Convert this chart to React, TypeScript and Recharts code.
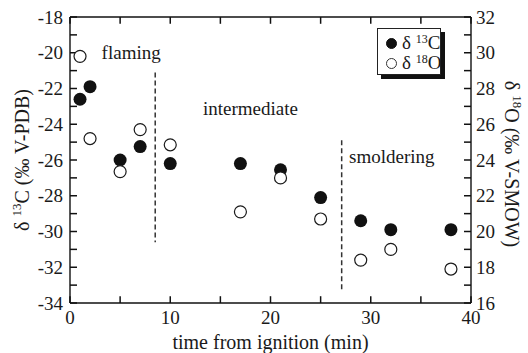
import { ScatterChart, Scatter, XAxis, YAxis, ReferenceLine, ReferenceDot } from 'recharts';

// sampling times (min after ignition)
const TIME = [1, 2, 5, 7, 10, 17, 21, 25, 29, 32, 38];
// delta 13C, per mil V-PDB (left axis)
const D13C = [-22.6, -21.9, -26.0, -25.25, -26.2, -26.2, -26.55, -28.1, -29.4, -29.9, -29.9];
// delta 18O, per mil V-SMOW (right axis)
const D18O = [29.8, 25.2, 23.35, 25.7, 24.85, 21.1, 23.0, 20.7, 18.4, 19.0, 17.9];

const X_TICKS = [0, 5, 10, 15, 20, 25, 30, 35, 40];
const C_TICKS = [-34, -33, -32, -31, -30, -29, -28, -27, -26, -25, -24, -23, -22, -21, -20, -19, -18];
const O_TICKS = [16, 17, 18, 19, 20, 21, 22, 23, 24, 25, 26, 27, 28, 29, 30, 31, 32];

// combustion phases: label, label position, and the dashed boundary after it
const PHASE_LABELS = ['flaming', 'intermediate', 'smoldering'];
const PHASE_X = [6.1, 18.0, 32.1];
const PHASE_Y = [-20.0, -23.1, -25.8];
const BOUNDARY_X = [8.5, 27.1];
const BOUNDARY_TOP = [-21.1, -24.9];
const BOUNDARY_BOTTOM = [-30.6, -33.3];

const X_MIN = 0;
const X_MAX = 40;
const C_MIN = -34;
const C_MAX = -18;
const O_MIN = 16;
const O_MAX = 32;
// inward tick length in data units (~7px)
const TICK_X = 0.7;
const TICK_Y = 0.38;

const FONT = 'Liberation Serif';
const INK = '#1a1a1a';
const axisLine = { stroke: '#111', strokeWidth: 1.4 };
const tickStyle = { fontSize: 19, fontFamily: FONT, fill: INK };
const tickStroke = { stroke: '#111', strokeWidth: 1.5 };

const evenOnly = (v: number) => (v % 2 === 0 ? String(v) : '');
const tensOnly = (v: number) => (v % 10 === 0 ? String(v) : '');

const carbon = TIME.map((t, i) => ({ t, v: D13C[i] }));
const oxygen = TIME.map((t, i) => ({ t, v: D18O[i] }));

const FilledDot = ({ cx, cy }: any) => <circle cx={cx} cy={cy} r={6.5} fill="#111" />;
const OpenDot = ({ cx, cy }: any) => (
  <circle cx={cx} cy={cy} r={6} fill="#fff" stroke={INK} strokeWidth={1.2} />
);

const LeftTitle = ({ viewBox }: any) => {
  const cx = 22;
  const cy = viewBox.y + viewBox.height / 2;
  return (
    <text x={cx} y={cy} transform={`rotate(-90 ${cx} ${cy})`} textAnchor="middle" dy="0.35em"
      fontSize={20} fontFamily={FONT} fill={INK}>
      δ <tspan fontSize={13} dy={-8}>13</tspan><tspan dy={8}>C (‰ V-PDB)</tspan>
    </text>
  );
};

const RightTitle = ({ viewBox }: any) => {
  const cx = 512;
  const cy = viewBox.y + viewBox.height / 2 + 4;
  return (
    <text x={cx} y={cy} transform={`rotate(90 ${cx} ${cy})`} textAnchor="middle" dy="0.35em"
      fontSize={20} fontFamily={FONT} fill={INK}>
      δ <tspan fontSize={13} dy={-8}>18</tspan><tspan dy={8}>O (‰ V-SMOW)</tspan>
    </text>
  );
};

const PhaseLegend = () => (
  <div
    style={{
      position: 'absolute',
      left: 377,
      top: 28,
      width: 62,
      height: 45,
      border: '1.2px solid #222',
      boxShadow: '4px 4px 0 #111',
      background: '#fff',
      fontFamily: FONT,
      fontSize: 19,
      color: INK,
    }}
  >
    {[
      { key: '13', el: 'C', filled: true },
      { key: '18', el: 'O', filled: false },
    ].map((s, i) => (
      <div key={s.key} style={{ position: 'absolute', left: 8, top: 4 + i * 20, display: 'flex', alignItems: 'center', height: 20, whiteSpace: 'nowrap' }}>
        <span
          style={{
            display: 'inline-block',
            width: 9,
            height: 9,
            borderRadius: '50%',
            background: s.filled ? '#111' : '#fff',
            border: s.filled ? '1px solid #111' : '1px solid #333',
            marginRight: 5,
          }}
        />
        <span>
          δ <sup style={{ fontSize: 12, verticalAlign: 'top', lineHeight: 1, position: 'relative', top: 1 }}>{s.key}</sup>
          {s.el}
        </span>
      </div>
    ))}
  </div>
);

export default function App() {
  return (
    <div style={{ position: 'absolute', left: 0, top: 0, width: 528, height: 353, background: '#fff', fontFamily: FONT }}>
      <ScatterChart width={528} height={353} margin={{ top: 17, right: 0, bottom: 0, left: 0 }}>
        <XAxis
          dataKey="t"
          type="number"
          domain={[X_MIN, X_MAX]}
          ticks={X_TICKS}
          interval={0}
          height={50}
          tickSize={0}
          tickMargin={8}
          tick={tickStyle}
          tickLine={false}
          tickFormatter={tensOnly}
          axisLine={axisLine}
          label={{ value: 'time from ignition (min)', position: 'insideBottom', offset: 4, fontSize: 20, fontFamily: FONT, fill: INK }}
        />
        <YAxis
          yAxisId="left"
          dataKey="v"
          type="number"
          domain={[C_MIN, C_MAX]}
          ticks={C_TICKS}
          interval={0}
          width={70}
          tickSize={0}
          tickMargin={7}
          tick={tickStyle}
          tickLine={false}
          tickFormatter={evenOnly}
          axisLine={axisLine}
          label={<LeftTitle />}
        />
        <YAxis
          yAxisId="right"
          orientation="right"
          dataKey="v"
          type="number"
          domain={[O_MIN, O_MAX]}
          ticks={O_TICKS}
          interval={0}
          width={57}
          tickSize={0}
          tickMargin={5}
          tick={tickStyle}
          tickLine={false}
          tickFormatter={evenOnly}
          axisLine={axisLine}
          label={<RightTitle />}
        />
        {/* top frame line */}
        <ReferenceLine yAxisId="left" y={C_MAX} {...axisLine} />
        {/* inward tick marks */}
        {X_TICKS.map((t) => (
          <ReferenceLine key={`b${t}`} yAxisId="left" segment={[{ x: t, y: C_MIN }, { x: t, y: C_MIN + TICK_Y }]} {...tickStroke} />
        ))}
        {X_TICKS.map((t) => (
          <ReferenceLine key={`t${t}`} yAxisId="left" segment={[{ x: t, y: C_MAX }, { x: t, y: C_MAX - TICK_Y }]} {...tickStroke} />
        ))}
        {C_TICKS.map((v) => (
          <ReferenceLine key={`l${v}`} yAxisId="left" segment={[{ x: X_MIN, y: v }, { x: X_MIN + TICK_X, y: v }]} {...tickStroke} />
        ))}
        {O_TICKS.map((v) => (
          <ReferenceLine key={`r${v}`} yAxisId="right" segment={[{ x: X_MAX - TICK_X, y: v }, { x: X_MAX, y: v }]} {...tickStroke} />
        ))}
        {BOUNDARY_X.map((bx, i) => (
          <ReferenceLine
            key={bx}
            yAxisId="left"
            segment={[{ x: bx, y: BOUNDARY_TOP[i] }, { x: bx, y: BOUNDARY_BOTTOM[i] }]}
            stroke="#333"
            strokeWidth={1.5}
            strokeDasharray="5 3"
          />
        ))}
        {PHASE_LABELS.map((p, i) => (
          <ReferenceDot
            key={p}
            yAxisId="left"
            x={PHASE_X[i]}
            y={PHASE_Y[i]}
            r={0}
            fill="none"
            stroke="none"
            label={{ value: p, position: 'center', fontSize: 19, fontFamily: FONT, fill: INK }}
          />
        ))}
        <Scatter yAxisId="left" data={carbon} shape={<FilledDot />} isAnimationActive={false} />
        <Scatter yAxisId="right" data={oxygen} shape={<OpenDot />} isAnimationActive={false} />
      </ScatterChart>
      <PhaseLegend />
    </div>
  );
}
